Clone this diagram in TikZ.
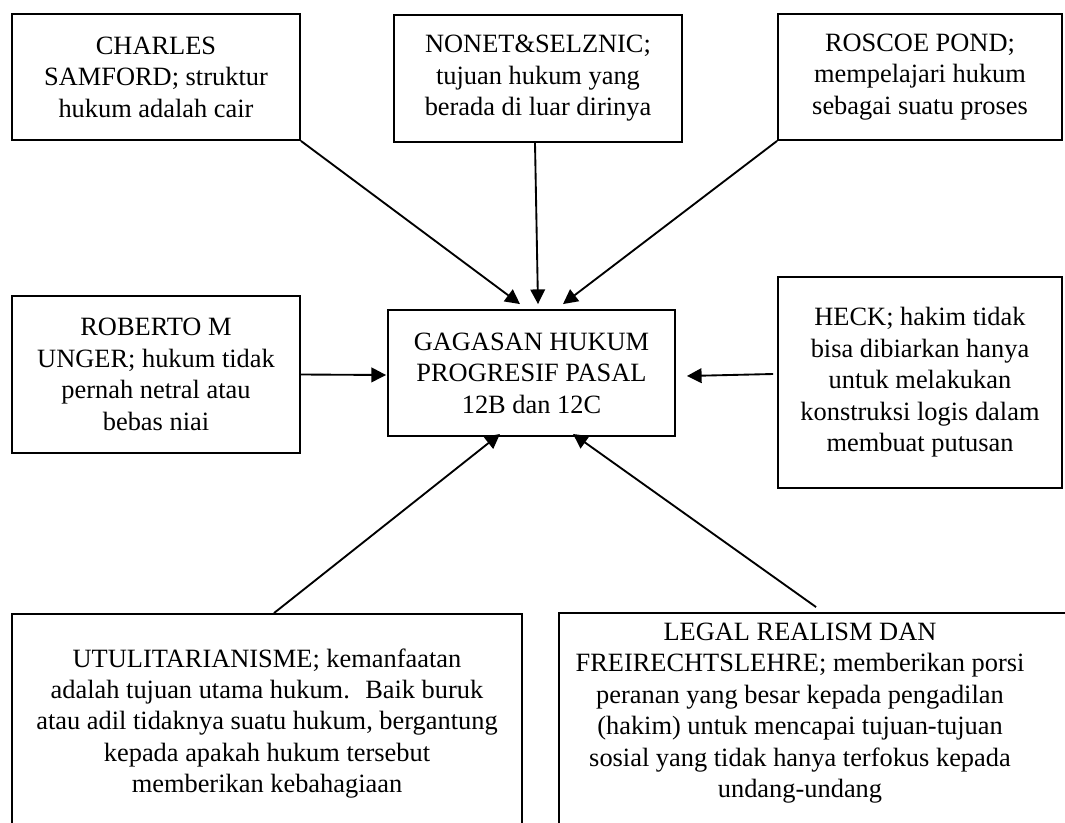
\documentclass[tikz,border=0pt]{standalone}
\usepackage{fontspec}
\setmainfont{Liberation Serif}
\usetikzlibrary{arrows.meta,calc}
\tikzset{
  box/.style={draw, line width=1.4pt, inner sep=0pt, align=center,
    font=\fontsize{19.8pt}{23.6pt}\selectfont},
  txt/.style={inner sep=0pt, align=center, font=\fontsize{19.8pt}{23.6pt}\selectfont},
  arr/.style={line width=1.4pt, -{Triangle[length=11pt,width=11pt]}}
}
\begin{document}
\begin{tikzpicture}[x=0.75pt,y=-0.75pt]
\useasboundingbox (0,0) rectangle (1065,822);
\fill[white] (0,0) rectangle (1065,822);
\clip (0,0) rectangle (1065,822);
\node[box, minimum width=216pt, minimum height=94.5pt] (charles) at (156,77)
  {CHARLES\\SAMFORD; struktur\\hukum adalah cair};
\node[box, minimum width=216pt, minimum height=95.25pt] (nonet) at (538,78.5)
  {NONET\&SELZNIC;\\tujuan hukum yang\\berada di luar dirinya};
\node[box, minimum width=213pt, minimum height=94.5pt] (roscoe) at (920,77)
  {ROSCOE POND;\\mempelajari hukum\\sebagai suatu proses};
\node[box, minimum width=216pt, minimum height=117.75pt] (roberto) at (156,374.5)
  {ROBERTO M\\UNGER; hukum tidak\\pernah netral atau\\bebas niai};
\node[box, minimum width=215.25pt, minimum height=94.5pt] (center) at (531.5,373)
  {GAGASAN HUKUM\\PROGRESIF PASAL\\12B dan 12C};
\node[box, minimum width=213pt, minimum height=158.25pt] (heck) at (920,382.5)
  {HECK; hakim tidak\\bisa dibiarkan hanya\\untuk melakukan\\konstruksi logis dalam\\membuat putusan};
\node[box, minimum width=382.5pt, minimum height=164.25pt] (util) at (267,723.5)
  {UTULITARIANISME; kemanfaatan\\adalah tujuan utama hukum.~ Baik buruk\\atau adil tidaknya suatu hukum, bergantung\\kepada apakah hukum tersebut\\memberikan kebahagiaan};
\node[box, minimum width=390.75pt, minimum height=162.75pt] (legal) at (819.5,721.5) {};
\node[txt] (legaltext) at (800,713)
  {LEGAL REALISM DAN\\FREIRECHTSLEHRE; memberikan porsi\\peranan yang besar kepada pengadilan\\(hakim) untuk mencapai tujuan-tujuan\\sosial yang tidak hanya terfokus kepada\\undang-undang};

\draw[arr] (charles.south east) -- ($(center.north)+(-11.5,-5)$);
\draw[arr] ($(nonet.south)+(-3,0)$) -- ($(center.north)+(6.5,-5)$);
\draw[arr] (roscoe.south west) -- ($(center.north)+(31.5,-5)$);
\draw[arr] (roberto.east) -- ($(center.west)+(-1,2)$);
\draw[arr] ($(heck.west)+(-4,-8.5)$) -- ($(center.east)+(11,3)$);
\draw[arr] ($(util.north)+(7,0)$) -- ($(center.south)+(-31.5,-3)$);
\draw[arr] ($(legal.north west)+(258,-5)$) -- ($(center.south)+(41.5,-3)$);
\end{tikzpicture}
\end{document}
